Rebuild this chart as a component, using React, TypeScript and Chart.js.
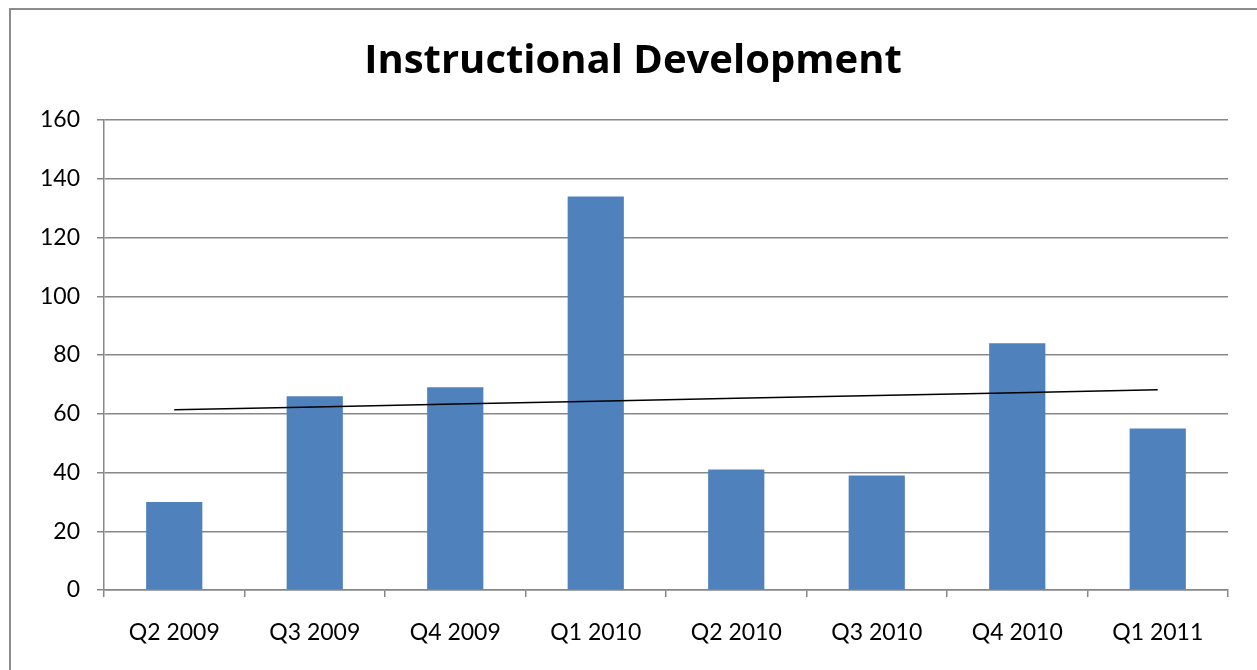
import React, { useEffect, useRef } from "react";
import { Chart, registerables } from "chart.js";

Chart.register(...registerables);

const categories = ["Q2 2009", "Q3 2009", "Q4 2009", "Q1 2010", "Q2 2010", "Q3 2010", "Q4 2010", "Q1 2011"];
const values = [30, 66, 69, 134, 41, 39, 84, 55];
const yTicks = [0, 20, 40, 60, 80, 100, 120, 140, 160];
const chartTitle = "Instructional Development";

function linearTrend(ys: number[]): number[] {
  const n = ys.length;
  const xs = ys.map((_, i) => i + 1);
  const mx = xs.reduce((a, b) => a + b, 0) / n;
  const my = ys.reduce((a, b) => a + b, 0) / n;
  let sxy = 0, sxx = 0;
  for (let i = 0; i < n; i++) {
    sxy += (xs[i] - mx) * (ys[i] - my);
    sxx += (xs[i] - mx) * (xs[i] - mx);
  }
  const slope = sxy / sxx;
  return xs.map((x) => my + slope * (x - mx));
}

export default function App() {
  const ref = useRef<HTMLCanvasElement | null>(null);
  useEffect(() => {
    if (!ref.current) return;
    const gridColor = "#878787";
    const font = "Lato, 'Open Sans', sans-serif";
    const titleFont = "'Open Sans', Lato, sans-serif";
    const chart = new Chart(ref.current, {
      type: "bar",
      data: {
        labels: categories,
        datasets: [
          {
            type: "line",
            label: "Trend",
            data: linearTrend(values),
            borderColor: "#000000",
            borderWidth: 1.5,
            pointRadius: 0,
            fill: false,
            order: 0,
          } as any,
          {
            type: "bar",
            label: "Value",
            data: values,
            backgroundColor: "#4F81BD",
            borderWidth: 0,
            barPercentage: 0.4,
            categoryPercentage: 1,
            order: 1,
          },
        ],
      },
      options: {
        animation: false,
        responsive: false,
        maintainAspectRatio: false,
        layout: { padding: { left: 38, right: 29, top: 0, bottom: 0 } },
        plugins: {
          legend: { display: false },
          tooltip: { enabled: false },
          title: {
            display: true,
            text: chartTitle,
            color: "#000000",
            font: { family: titleFont, size: 40, weight: "bold", lineHeight: 1.2 },
            padding: { top: 38, bottom: 34 },
          },
        },
        scales: {
          x: {
            offset: true,
            grid: {
              offset: true,
              drawOnChartArea: false,
              drawTicks: true,
              tickLength: 7,
              color: gridColor,
              lineWidth: 1.5,
            },
            border: { display: true, color: gridColor, width: 1.5 },
            ticks: {
              color: "#000000",
              font: { family: font, size: 23 },
              padding: 22,
              maxRotation: 0,
            },
            afterFit: (scale: any) => {
              scale.height = 80;
            },
          },
          y: {
            min: 0,
            max: 160,
            afterBuildTicks: (scale: any) => {
              scale.ticks = yTicks.map((v) => ({ value: v }));
            },
            grid: {
              color: gridColor,
              lineWidth: 1.5,
              tickLength: 7,
              drawTicks: true,
            },
            border: { display: true, color: gridColor, width: 1.5 },
            ticks: {
              color: "#000000",
              font: { family: font, size: 23 },
              padding: 17,
            },
            afterFit: (scale: any) => {
              scale.width = 66;
            },
          },
        },
      },
    });
    return () => chart.destroy();
  }, []);
  return (
    <div style={{ position: "absolute", left: 0, top: 0, width: 1257, height: 670, overflow: "hidden", background: "#ffffff" }}>
      <div
        style={{
          position: "absolute",
          left: 9,
          top: 8,
          width: 1260,
          height: 700,
          border: "2px solid #8c8c8c",
          boxSizing: "border-box",
        }}
      />
      <canvas ref={ref} width={1257} height={670} style={{ position: "absolute", left: 0, top: 0 }} />
    </div>
  );
}
